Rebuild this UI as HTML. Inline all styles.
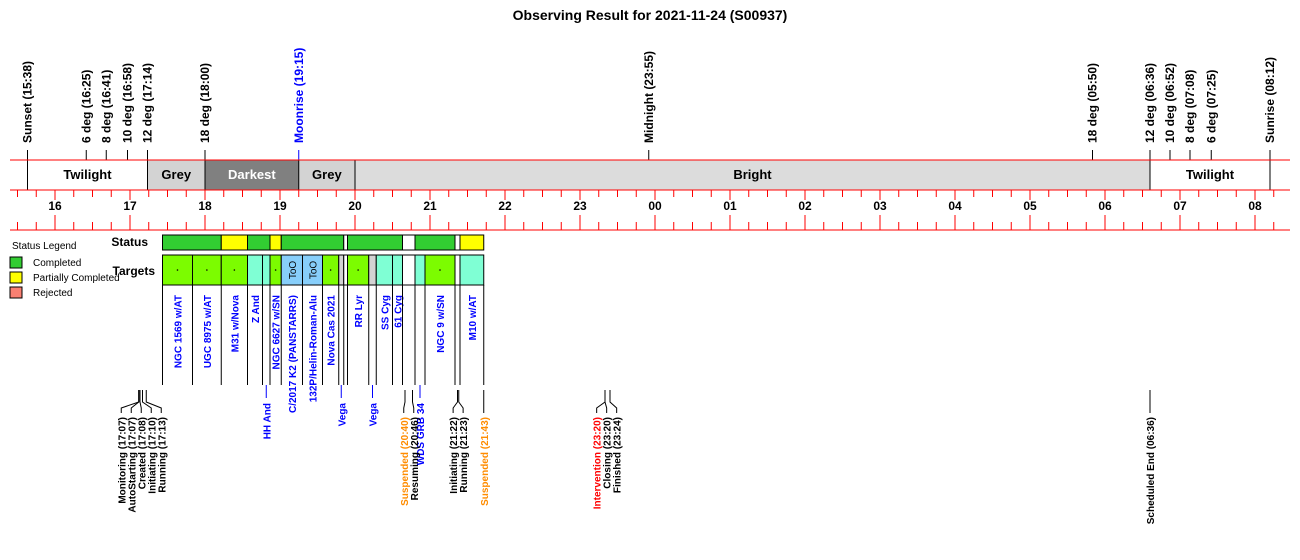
<!DOCTYPE html>
<html><head><meta charset="utf-8"><style>
body{margin:0;background:#fff;}
svg{display:block;font-family:"Liberation Sans",Arial,sans-serif;}
</style></head><body>
<svg id="c" width="1300" height="560" xmlns="http://www.w3.org/2000/svg">
<text x="650" y="20" text-anchor="middle" font-size="14" font-weight="bold">Observing Result for 2021-11-24 (S00937)</text>
<g>
<text x="12" y="249" font-size="10">Status Legend</text>
<rect x="10" y="257" width="12" height="11" fill="#32cd32" stroke="#000"/>
<text x="33" y="266" font-size="10">Completed</text>
<rect x="10" y="272" width="12" height="11" fill="#ffff00" stroke="#000"/>
<text x="33" y="281" font-size="10">Partially Completed</text>
<rect x="10" y="287" width="12" height="11" fill="#fa8072" stroke="#000"/>
<text x="33" y="296" font-size="10">Rejected</text>
</g>
<text x="148" y="246" text-anchor="end" font-size="12" font-weight="bold">Status</text>
<text x="155" y="275" text-anchor="end" font-size="12" font-weight="bold">Targets</text>
<g id="g"></g>
</svg>
<script>
// ---- data ----
const bandStarts = ["15:38","17:14","18:00","19:15","20:00","06:36"];
const bandEnds   = ["17:14","18:00","19:15","20:00","06:36","08:12"];
const bandNames  = ["Twilight","Grey","Darkest","Grey","Bright","Twilight"];
const bandFills  = ["#ffffff","#d3d3d3","#808080","#d3d3d3","#dcdcdc","#ffffff"];
const markerTimes = ["15:38","16:25","16:41","16:58","17:14","18:00","19:15","23:55","05:50","06:36","06:52","07:08","07:25","08:12"];
const markerLabels = ["Sunset (15:38)","6 deg (16:25)","8 deg (16:41)","10 deg (16:58)","12 deg (17:14)","18 deg (18:00)","Moonrise (19:15)","Midnight (23:55)","18 deg (05:50)","12 deg (06:36)","10 deg (06:52)","8 deg (07:08)","6 deg (07:25)","Sunrise (08:12)"];
const hourTicks = ["16","17","18","19","20","21","22","23","00","01","02","03","04","05","06","07","08"];
const statusStarts = ["17:26","18:13","18:34","18:52","19:01","19:51","19:54","20:38","20:48","21:20","21:24"];
const statusEnds   = ["18:13","18:34","18:52","19:01","19:51","19:54","20:38","20:48","21:20","21:24","21:43"];
const statusKinds  = ["C","P","C","P","C","N","C","N","C","N","P"];
const targetStarts = ["17:26","17:50","18:13","18:34","18:46","18:52","19:01","19:18","19:34","19:47","19:51","19:54","20:11","20:17","20:30","20:38","20:48","20:56","21:20","21:24"];
const targetEnds   = ["17:50","18:13","18:34","18:46","18:52","19:01","19:18","19:34","19:47","19:51","19:54","20:11","20:17","20:30","20:38","20:48","20:56","21:20","21:24","21:43"];
const targetKinds  = ["G","G","G","A","A","G","T","T","G","R","N","G","R","A","A","N","A","G","N","A"];
const targetNames  = ["NGC 1569 w/AT","UGC 8975 w/AT","M31 w/Nova","Z And","HH And","NGC 6627 w/SN","C/2017 K2 (PANSTARRS)","132P/Helin-Roman-Alu","Nova Cas 2021","Vega","","RR Lyr","Vega","SS Cyg","61 Cyg","","WDS GRB 34","NGC 9 w/SN","","M10 w/AT"];
const targetLow    = [0,0,0,0,1,0,0,0,0,1,0,0,1,0,0,0,1,0,0,0];
const eventTimes  = ["17:07","17:07","17:08","17:10","17:13","20:40","20:46","21:22","21:23","21:43","23:20","23:20","23:24","06:36"];
const eventNames  = ["Monitoring","AutoStarting","Created","Initiating","Running","Suspended","Resuming","Initiating","Running","Suspended","Intervention","Closing","Finished","Scheduled End"];
const eventColors = ["#000","#000","#000","#000","#000","#ff8c00","#000","#000","#000","#ff8c00","#ff0000","#000","#000","#000"];
const eventGroup  = [0,0,0,0,0,1,1,2,2,3,4,4,4,5];

// ---- helpers ----
const NS="http://www.w3.org/2000/svg", G=document.getElementById('g');
function h(t){let [a,b]=t.split(':').map(Number);let v=a+b/60;if(v<12)v+=24;return v;}
function X(t){return 55+((typeof t==='string'?h(t):t)-16)*75;}
function mk(tag,at,txt){const e=document.createElementNS(NS,tag);for(const k in at)e.setAttribute(k,at[k]);if(txt!==undefined)e.textContent=txt;G.appendChild(e);return e;}
function vtext(x,y,s,col,size,name,anchor){const e=mk('text',{x:0,y:0,transform:`translate(${x+4},${y}) rotate(-90)`,'text-anchor':anchor||'end','font-size':size,'font-weight':'bold',fill:col},s);return e;}

// bands
bandStarts.forEach((s,i)=>{
  const x1=X(s),x2=X(bandEnds[i]);
  const r=mk('rect',{x:x1,y:160,width:x2-x1,height:30,fill:bandFills[i]});
  
  
  const t=mk('text',{x:(x1+x2)/2,y:179,'text-anchor':'middle','font-size':13,'font-weight':'bold',fill:bandNames[i]==='Darkest'?'#fff':'#000'},bandNames[i]);
  
  
});
[...new Set([...bandStarts,...bandEnds])].forEach(s=>{
  const l=mk('line',{x1:X(s),x2:X(s),y1:160,y2:190,stroke:'#000'});
  
  
});
// markers
markerTimes.forEach((s,i)=>{
  const col=markerLabels[i].startsWith('Moonrise')?'#0000ff':'#000';
  const l=mk('line',{x1:X(s),x2:X(s),y1:150,y2:160,stroke:col});
  
  
  vtext(X(s),143,markerLabels[i],col,12,'marker-label','start');
});
// axis lines
[160,190,230].forEach(y=>{const l=mk('line',{x1:10,x2:1290,y1:y,y2:y,stroke:'#ff0000'});});
for(let q=15.5*4;q<=32.5*4;q++){
  const x=X(q/4); if(x<10||x>1290)continue;
  const major=q%4===0;
  mk('line',{x1:x,x2:x,y1:190,y2:major?200:197,stroke:'#ff0000'});
  mk('line',{x1:x,x2:x,y1:major?215:222,y2:230,stroke:'#ff0000'});
}
hourTicks.forEach((s,i)=>{
  const t=mk('text',{x:X(16+i),y:210,'text-anchor':'middle','font-size':12,'font-weight':'bold'},s);
  
  
});
// status bars
const sFill={C:'#32cd32',P:'#ffff00',N:'#ffffff'};
statusStarts.forEach((s,i)=>{
  const x1=X(s),x2=X(statusEnds[i]);
  const r=mk('rect',{x:x1,y:235,width:x2-x1,height:15,fill:sFill[statusKinds[i]],stroke:'#000','stroke-width':1});
  
  
});
// target bars
const tFill={G:'#7cfc00',A:'#7fffd4',T:'#87cefa',R:'#d3d3d3',N:'#ffffff'};
targetStarts.forEach((s,i)=>{
  const x1=X(s),x2=X(targetEnds[i]);
  const r=mk('rect',{x:x1,y:255,width:x2-x1,height:30,fill:tFill[targetKinds[i]],stroke:'#000','stroke-width':1});
  
  
  const c=(x1+x2)/2;
  if(targetKinds[i]==='G'){mk('circle',{cx:c,cy:270,r:0.8,fill:'#000'});}
  if(targetKinds[i]==='T'){const t=vtext(c,280,'ToO','#000',10,'too-marker');t.setAttribute('font-weight','normal');t.setAttribute('transform',`translate(${c+4},270) rotate(-90)`);t.setAttribute('text-anchor','middle');}
  const l=mk('line',{x1:x1,x2:x1,y1:285,y2:385,stroke:'#000'});
  
  
  if(i===targetStarts.length-1){mk('line',{x1:x2,x2:x2,y1:285,y2:385,stroke:'#000'});}
  const nm=targetNames[i]; if(!nm)return;
  if(targetLow[i]){
    mk('line',{x1:c,x2:c,y1:385,y2:398,stroke:'#0000ff'});
    vtext(c,403,nm,'#0000ff',10,'target-label');
  } else {
    vtext(c,295,nm,'#0000ff',10,'target-label');
  }
});
// events
const groups={};
eventTimes.forEach((s,i)=>{(groups[eventGroup[i]]=groups[eventGroup[i]]||[]).push(i);});
Object.values(groups).forEach(idx=>{
  const n=idx.length, mean=idx.reduce((a,i)=>a+X(eventTimes[i]),0)/n;
  idx.forEach((i,k)=>{
    const ex=X(eventTimes[i]);
    const lx=n===1?ex:mean+(k-(n-1)/2)*10;
    const p=mk('polyline',{points:`${ex},390 ${ex},402 ${lx},408 ${lx},413`,fill:'none',stroke:'#000'});
    
    
    vtext(lx,417,`${eventNames[i]} (${eventTimes[i]})`,eventColors[i],10,'event-label');
  });
});
</script>
</body></html>
